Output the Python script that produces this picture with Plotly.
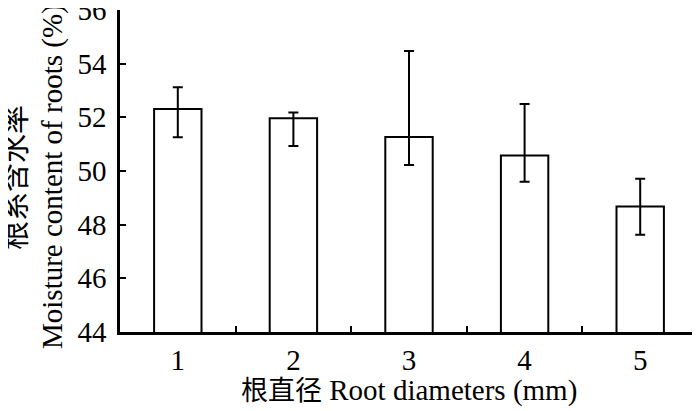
import plotly.graph_objects as go

categories = ["1", "2", "3", "4", "5"]
moisture = [52.31, 51.97, 51.27, 50.58, 48.68]
upper = [53.12, 52.18, 54.47, 52.50, 49.71]
lower = [51.26, 50.93, 50.22, 49.60, 47.62]

y_ticks = [44, 46, 48, 50, 52, 54, 56]
x_title_cn = "根直径"
x_title_en = "Root diameters (mm)"
y_title_cn = "根系含水率"
y_title_en = "Moisture content of roots (%)"

err_plus = [u - v for u, v in zip(upper, moisture)]
err_minus = [v - l for v, l in zip(moisture, lower)]

FONT = "Liberation Serif, Times New Roman, Noto Sans CJK SC, serif"

fig = go.Figure()
fig.add_trace(go.Bar(
    x=categories,
    y=moisture,
    width=0.41,
    marker=dict(color="white", line=dict(color="black", width=2)),
    error_y=dict(type="data", symmetric=False, array=err_plus, arrayminus=err_minus,
                 color="black", thickness=2, width=5),
))

fig.update_layout(
    width=692, height=403,
    margin=dict(l=112, r=2, t=2, b=79, autoexpand=False),
    plot_bgcolor="white", paper_bgcolor="white",
    showlegend=False,
    font=dict(family=FONT, size=29, color="black"),
    xaxis=dict(
        type="category",
        tickson="boundaries",
        ticks="inside", ticklen=6, tickwidth=2, tickcolor="black",
        showline=True, linecolor="black", linewidth=2.5,
        showgrid=False, zeroline=False, automargin=False,
        tickfont=dict(family=FONT, size=29),
        range=[-0.5, 4.5],
    ),
    yaxis=dict(
        range=[44, 56],
        tickvals=y_ticks,
        ticks="inside", ticklen=6, tickwidth=2, tickcolor="black",
        showline=True, linecolor="black", linewidth=2.5,
        showgrid=False, zeroline=False, automargin=False,
        ticklabeloverflow="allow",
        tickfont=dict(family=FONT, size=29),
        ticklabelstandoff=5,
    ),
    annotations=[
        dict(text="<span style='font-size:27px'>" + x_title_cn + "</span> " + x_title_en,
             xref="paper", yref="paper",
             x=0.5, y=0, yshift=-58, xanchor="center", yanchor="middle", showarrow=False,
             font=dict(family=FONT, size=29)),
        dict(text=y_title_cn, xref="paper", yref="paper", x=0, y=0.5,
             xshift=-104, yshift=-7, textangle=-90, xanchor="center", yanchor="middle",
             showarrow=False, font=dict(family=FONT, size=29)),
        dict(text=y_title_en, xref="paper", yref="paper", x=0, y=0.5,
             xshift=-68, yshift=-6, textangle=-90, xanchor="center", yanchor="middle",
             showarrow=False, font=dict(family=FONT, size=29)),
    ],
)

fig.write_html("out.html")
